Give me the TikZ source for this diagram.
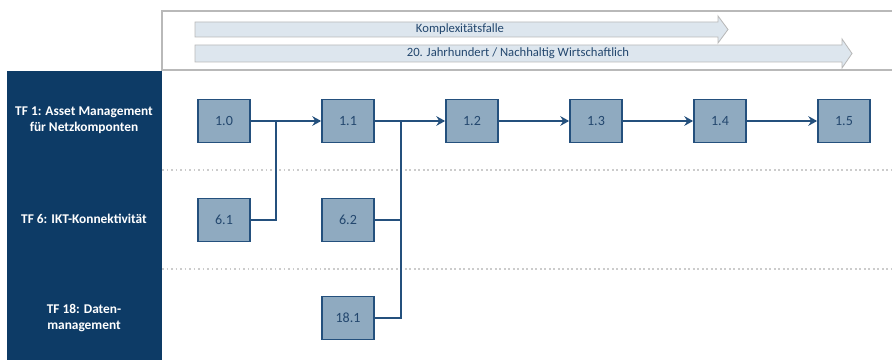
\documentclass[tikz,border=0pt]{standalone}
\usepackage{fontspec}
\setmainfont{Carlito}
\usepackage{tikz}
\usetikzlibrary{arrows.meta, positioning, calc}
\definecolor{tfnavy}{HTML}{0D3B66}
\definecolor{stepfill}{HTML}{8FAAC0}
\definecolor{stepline}{HTML}{24507D}
\definecolor{steptext}{HTML}{23476E}
\definecolor{bandfill}{HTML}{DDE6EE}
\tikzstyle{stepbox} = [rectangle, draw=stepline, line width=1.2pt, fill=stepfill,
                       minimum width=1.3cm, minimum height=1.07cm,
                       font=\fontsize{10}{12}\selectfont, text=steptext]
\tikzstyle{lane}    = [text=white, font=\fontsize{9.5}{11}\selectfont\bfseries,
                       align=center]
\tikzstyle{band}    = [fill=bandfill, draw=gray!55, line width=0.6pt]
\tikzstyle{bandtxt} = [font=\fontsize{9}{11}\selectfont, text=steptext]
\tikzstyle{link}    = [draw=stepline, line width=1.4pt]
\tikzstyle{arrow}   = [link, -{Stealth[length=2.2mm, width=2.4mm]}]

\begin{document}
\begin{tikzpicture}[x=0.025cm, y=-0.025cm]
  \useasboundingbox (0,0) rectangle (892,360);

  % header frame and time bands
  \draw[gray!55, line width=0.8pt] (892,11) -- (162,11) -- (162,70) -- (892,70);
  \draw[band] (195,22) -- (718,22) -- (718,16) -- (728,29.5) -- (718,43) -- (718,37)
    -- (195,37) -- cycle;
  \node[bandtxt] (komplex) at (460,29.5) {Komplexitätsfalle};
  \draw[band] (195,45) -- (842,45) -- (842,39) -- (852,53.5) -- (842,68) -- (842,62)
    -- (195,62) -- cycle;
  \node[bandtxt] (jahrh) at (518,53.5) {20. Jahrhundert / Nachhaltig Wirtschaftlich};

  % lanes
  \fill[tfnavy] (7,71) rectangle (162,360);
  \draw[gray!40, dotted, line width=1.2pt] (162,170) -- (892,170);
  \draw[gray!40, dotted, line width=1.2pt] (162,269) -- (892,269);
  \node[lane] (tf1) at (84,120) {TF 1: Asset Management\\für Netzkomponten};
  \node[lane] (tf6) at (84,219) {TF 6: IKT-Konnektivität};
  \node[lane] (tf18) at (84,318) {TF 18: Daten-\\management};

  % steps
  \node[stepbox] (s10) at (224,121) {1.0};
  \node[stepbox] (s11) at (348,121) {1.1};
  \node[stepbox] (s12) at (472,121) {1.2};
  \node[stepbox] (s13) at (596,121) {1.3};
  \node[stepbox] (s14) at (720,121) {1.4};
  \node[stepbox] (s15) at (844,121) {1.5};
  \node[stepbox] (s61) at (224,220) {6.1};
  \node[stepbox] (s62) at (348,220) {6.2};
  \node[stepbox] (s181) at (348,318) {18.1};

  \coordinate (j1) at (276,121);
  \coordinate (j2) at (401,121);

  \draw[arrow] (s10) -- (s11);
  \draw[arrow] (s11) -- (s12);
  \draw[arrow] (s12) -- (s13);
  \draw[arrow] (s13) -- (s14);
  \draw[arrow] (s14) -- (s15);

  \draw[link] (s61.east) -| (j1);
  \draw[link] (s62.east) -| (j2);
  \draw[link] (s181.east) -| (j2);
\end{tikzpicture}
\end{document}
